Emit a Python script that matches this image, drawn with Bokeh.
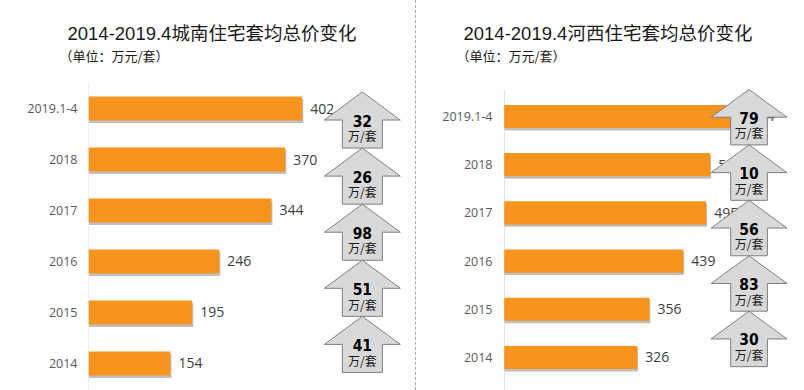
import numpy as np
from bokeh.plotting import figure
from bokeh.models import Range1d, FixedTicker, Title, Div, ColumnDataSource
from bokeh.layouts import row
from bokeh.core.properties import value
from bokeh.embed import file_html
from bokeh.resources import INLINE

# ---- data -------------------------------------------------------------
categories = ["2014", "2015", "2016", "2017", "2018", "2019.1-4"]
chengnan_values = [154, 195, 246, 344, 370, 402]
hexi_values = [326, 356, 439, 495, 505, 584]
chengnan_title = "2014-2019.4城南住宅套均总价变化"
hexi_title = "2014-2019.4河西住宅套均总价变化"
unit_note = "（单位：万元/套）"
unit_label = "万/套"

BAR = "#F7941D"
CJK = "Noto Sans CJK SC"
TITLE_FONT = "Liberation Sans, Noto Sans CJK SC"
LAT = "Open Sans"
NUM = "DejaVu Sans Condensed"


def make_panel(title, vals, frame_w, frame_h, border_left, border_top,
               x_range, y_range, axis_top, arrow_cx, head_hw, shaft_hw,
               arrow_b0, arrow_h, bar_h, title_offset, sub_offset):
    idx = list(range(len(categories)))
    p = figure(frame_width=frame_w, frame_height=frame_h,
               x_range=Range1d(*x_range), y_range=Range1d(*y_range),
               output_backend="svg", toolbar_location=None, title=None,
               min_border_left=border_left, min_border_top=border_top,
               min_border_right=0, min_border_bottom=0)
    p.outline_line_color = None
    p.xgrid.grid_line_color = None
    p.ygrid.grid_line_color = None
    p.xaxis.visible = False
    ya = p.yaxis[0]
    ya.ticker = FixedTicker(ticks=idx)
    ya.major_label_overrides = {i: c for i, c in zip(idx, categories)}
    ya.axis_line_color = None
    ya.major_tick_line_color = None
    ya.minor_tick_line_color = None
    ya.major_label_standoff = 5
    ya.major_label_text_font = LAT
    ya.major_label_text_font_size = "12.5px"
    ya.major_label_text_color = "#595959"

    # category axis line
    p.segment(x0=[0], y0=[y_range[0]], x1=[0], y1=[axis_top],
              line_color="#d9d9d9", line_width=1)

    src = ColumnDataSource(dict(y=idx, v=vals,
                                ys=[i - 0.05 for i in idx],
                                vs=[v + 2 for v in vals],
                                lab=[str(v) for v in vals]))
    # shadow + bars
    p.hbar(y="ys", left=1, right="vs", height=bar_h, source=src,
           fill_color="#7f7f7f", fill_alpha=0.5, line_color=None)
    p.hbar(y="y", left=0, right="v", height=bar_h, source=src,
           fill_color=BAR, line_color=None)
    p.text(x="v", y="y", text="lab", source=src, x_offset=8,
           text_baseline="middle", text_align="left",
           text_font=value(LAT), text_font_size="14px", text_color="#404040")

    # arrows for year-on-year increments
    diffs = [vals[i + 1] - vals[i] for i in range(len(vals) - 1)]
    hh = 0.5 * arrow_h
    xs, ys, tx, ty_num, ty_unit, nums = [], [], [], [], [], []
    for k, d in enumerate(diffs):
        bot = arrow_b0 + k * arrow_h
        top = bot + arrow_h
        xs.append([arrow_cx, arrow_cx + head_hw, arrow_cx + shaft_hw, arrow_cx + shaft_hw,
                   arrow_cx - shaft_hw, arrow_cx - shaft_hw, arrow_cx - head_hw])
        ys.append([top, top - hh, top - hh, bot, bot, top - hh, top - hh])
        tx.append(arrow_cx)
        ty_num.append(top - 0.51 * arrow_h)
        ty_unit.append(top - 0.78 * arrow_h)
        nums.append(str(d))
    order = list(reversed(range(len(diffs))))
    p.patches(xs=[xs[i] for i in order], ys=[ys[i] for i in order],
              fill_color="#d9d9d9", line_color="#7f7f7f", line_width=1)
    p.text(x=tx, y=ty_num, text=nums, text_align="center", text_baseline="middle",
           text_font=value(NUM), text_font_style="bold", text_font_size="15.5px",
           text_color="#000000")
    p.text(x=tx, y=ty_unit, text=[unit_label] * len(nums), text_align="center",
           text_baseline="middle", text_font=value(CJK), text_font_size="12px",
           text_color="#1a1a1a")

    # titles (stacked outward from the frame)
    p.add_layout(Title(text=" ", text_font_size="2px", standoff=14), "above")
    p.add_layout(Title(text=unit_note, text_font=CJK, text_font_size="13px",
                       text_font_style="normal", text_color="#1a1a1a",
                       offset=sub_offset, standoff=0), "above")
    p.add_layout(Title(text=title, text_font=TITLE_FONT, text_font_size="18.5px",
                       text_font_style="normal", text_color="#1a1a1a",
                       offset=title_offset, standoff=0), "above")
    return p


left = make_panel(chengnan_title, chengnan_values, 327, 308, 88, 82,
                  (0, 615), (-0.53, 5.51), 5.51, 515, 71.4, 37.6, -0.176, 1.1,
                  0.47, -21, -29)
right = make_panel(hexi_title, hexi_values, 301, 308, 87, 82,
                   (-2, 736), (-0.685, 5.705), 5.54, 600, 93, 45, -0.19, 1.15,
                   0.48, -40, -47)

sep = Div(text="", width=1, height=390, margin=0,
          styles={"border-left": "1px dashed #a6a6a6", "height": "390px"})

layout = row(left, sep, right, spacing=0)
open("out.html", "w").write(file_html(layout, INLINE))
